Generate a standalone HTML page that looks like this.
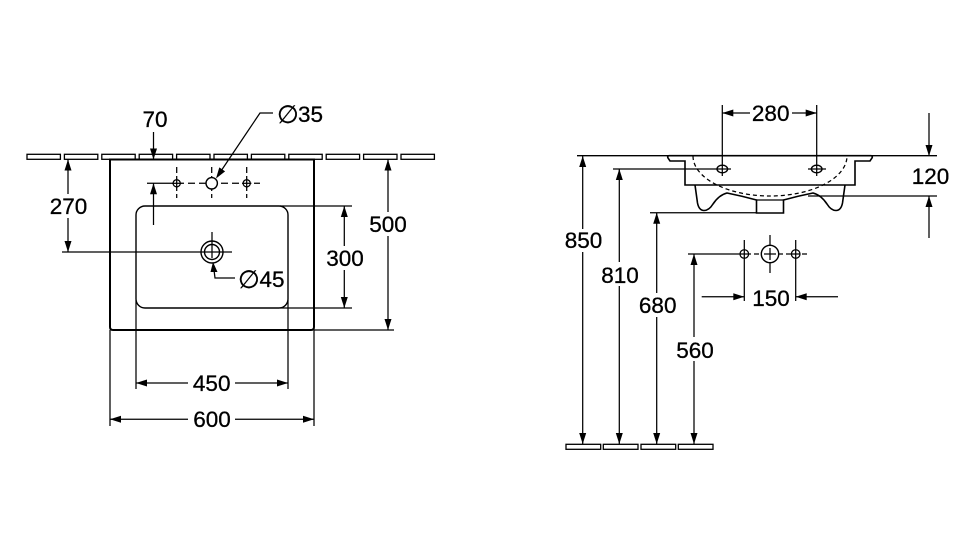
<!DOCTYPE html>
<html>
<head>
<meta charset="utf-8">
<style>
  html,body{margin:0;padding:0;background:#fff;}
  svg{display:block;}
  text{font-family:"Liberation Sans","DejaVu Sans",sans-serif;font-size:22.5px;fill:#000;stroke:#000;stroke-width:0.3px;}
</style>
</head>
<body>
<svg width="956" height="540" viewBox="0 0 956 540" xmlns="http://www.w3.org/2000/svg">
<rect width="956" height="540" fill="#fff"/>
<g fill="none" stroke="#000" stroke-width="1.25">
  <!-- ===== LEFT: wall tiles ===== -->
  <g stroke-width="1.3">
    <rect x="27" y="154.3" width="33.4" height="5"/>
    <rect x="64.4" y="154.3" width="33.4" height="5"/>
    <rect x="101.8" y="154.3" width="33.4" height="5"/>
    <rect x="139.2" y="154.3" width="33.4" height="5"/>
    <rect x="176.6" y="154.3" width="33.4" height="5"/>
    <rect x="214" y="154.3" width="33.4" height="5"/>
    <rect x="251.4" y="154.3" width="33.4" height="5"/>
    <rect x="288.8" y="154.3" width="33.4" height="5"/>
    <rect x="326.2" y="154.3" width="33.4" height="5"/>
    <rect x="363.6" y="154.3" width="33.4" height="5"/>
    <rect x="401" y="154.3" width="33.4" height="5"/>
  </g>
  <!-- basin outer -->
  <path d="M110,159.5 L314,159.5 L314,327 Q314,330 311,330 L113,330 Q110,330 110,327 Z" stroke-width="2"/>
  <!-- bowl -->
  <rect x="136" y="206" width="152" height="102" rx="9" stroke-width="1.4"/>
  <!-- extension lines -->
  <line x1="136" y1="300" x2="136" y2="389"/>
  <line x1="288" y1="300" x2="288" y2="389"/>
  <line x1="110" y1="330" x2="110" y2="426"/>
  <line x1="314" y1="330" x2="314" y2="426"/>
  <line x1="280" y1="206" x2="352" y2="206"/>
  <line x1="280" y1="308" x2="352" y2="308"/>
  <line x1="314" y1="330" x2="394" y2="330"/>
  <!-- dimension lines -->
  <line x1="136" y1="383" x2="288" y2="383"/>
  <line x1="110" y1="419.3" x2="314" y2="419.3"/>
  <line x1="344.3" y1="206" x2="344.3" y2="308"/>
  <line x1="388" y1="159.5" x2="388" y2="330"/>
  <line x1="68" y1="159.5" x2="68" y2="252"/>
  <line x1="62" y1="252" x2="232" y2="252"/>
  <line x1="153.5" y1="132" x2="153.5" y2="159.5"/>
  <line x1="153.5" y1="183.3" x2="153.5" y2="225"/>
  <!-- tap hole centerline -->
  <line x1="147" y1="183.3" x2="166" y2="183.3"/>
  <line x1="166" y1="183.3" x2="260" y2="183.3" stroke-dasharray="7,4"/>
  <line x1="176.7" y1="167" x2="176.7" y2="198" stroke-dasharray="6,3"/>
  <line x1="211.7" y1="167" x2="211.7" y2="198" stroke-dasharray="6,3"/>
  <line x1="246.7" y1="167" x2="246.7" y2="198" stroke-dasharray="6,3"/>
  <circle cx="176.7" cy="183.3" r="3.6" fill="#fff"/>
  <line x1="172" y1="183.3" x2="181.4" y2="183.3"/>
  <line x1="176.7" y1="178.6" x2="176.7" y2="188"/>
  <circle cx="246.7" cy="183.3" r="3.6" fill="#fff"/>
  <line x1="242" y1="183.3" x2="251.4" y2="183.3"/>
  <line x1="246.7" y1="178.6" x2="246.7" y2="188"/>
  <circle cx="211.7" cy="183.3" r="5.7" fill="#fff" stroke-width="1.4"/>
  <!-- Ø35 leader -->
  <polyline points="273,113 260,113 219,174"/>
  <!-- drain -->
  <line x1="212" y1="232" x2="212" y2="258"/>
  <circle cx="212" cy="252" r="11" stroke-width="1.4"/>
  <circle cx="212" cy="252" r="7.5" stroke-width="1.4"/>
  <!-- Ø45 leader -->
  <polyline points="214,270 215,278 235,278"/>

  <!-- ===== RIGHT ===== -->
  <line x1="577" y1="155.7" x2="937" y2="155.7" stroke-width="1.4"/>
  <!-- basin profile -->
  <path d="M669,155.7 L871,155.7 Q873,156 872,158 L870,161 L855,161 L855,185 L685,185 L685,161 L670,161 L668,158 Q667,156 669,155.7 Z" stroke-width="1.6" fill="#fff"/>
  <!-- legs and underside -->
  <path d="M695,185 L697.5,203 Q699,210.5 704,210.5 Q709,210.5 713,204 Q719,195 727,193 Q742,196 756.5,200 L756.5,213 L783.5,213 L783.5,200 Q798,196 813,193 Q821,195 827,204 Q831,210.5 836,210.5 Q841,210.5 842.5,203 L845,185" stroke-width="1.6"/>
  <line x1="756.5" y1="200" x2="783.5" y2="200" stroke-width="1.3"/>
  <!-- dashed bowl -->
  <path d="M693,156 A77,40 0 0 0 847,156" stroke-dasharray="4,3"/>
  <!-- tap holes -->
  <line x1="722.3" y1="105" x2="722.3" y2="176"/>
  <line x1="816.7" y1="105" x2="816.7" y2="176"/>
  <line x1="613" y1="169" x2="731" y2="169"/>
  <line x1="808" y1="169" x2="826" y2="169"/>
  <ellipse cx="722.3" cy="169" rx="5.3" ry="3.8" stroke-width="1.4"/>
  <ellipse cx="816.7" cy="169" rx="5.3" ry="3.8" stroke-width="1.4"/>
  <!-- 280 -->
  <line x1="722.3" y1="113" x2="816.7" y2="113"/>
  <!-- 120 -->
  <line x1="929" y1="113" x2="929" y2="156"/>
  <line x1="929" y1="196" x2="929" y2="238"/>
  <line x1="808" y1="196" x2="937" y2="196"/>
  <!-- 680 ext -->
  <line x1="650" y1="212.7" x2="757" y2="212.7"/>
  <!-- verticals -->
  <line x1="582.7" y1="156" x2="582.7" y2="444"/>
  <line x1="619.3" y1="169" x2="619.3" y2="444"/>
  <line x1="656.7" y1="212.7" x2="656.7" y2="444"/>
  <line x1="694" y1="254" x2="694" y2="444"/>
  <!-- floor tiles -->
  <g stroke-width="1.3">
    <rect x="566" y="444.3" width="34.7" height="5"/>
    <rect x="603.3" y="444.3" width="34.7" height="5"/>
    <rect x="641" y="444.3" width="34.7" height="5"/>
    <rect x="678.3" y="444.3" width="34.7" height="5"/>
  </g>
  <!-- 560 ext + holes -->
  <line x1="688" y1="254" x2="738" y2="254"/>
  <line x1="738" y1="254" x2="808" y2="254" stroke-dasharray="5,3"/>
  <line x1="770" y1="235" x2="770" y2="273"/>
  <line x1="744.3" y1="240" x2="744.3" y2="301"/>
  <line x1="795.7" y1="240" x2="795.7" y2="301"/>
  <circle cx="744.3" cy="254" r="4.3" fill="#fff"/>
  <line x1="740" y1="254" x2="748.6" y2="254"/>
  <line x1="744.3" y1="249.7" x2="744.3" y2="258.3"/>
  <circle cx="795.7" cy="254" r="4.3" fill="#fff"/>
  <line x1="791.4" y1="254" x2="800" y2="254"/>
  <line x1="795.7" y1="249.7" x2="795.7" y2="258.3"/>
  <circle cx="770" cy="254" r="8.7" fill="#fff" stroke-width="1.4"/>
  <line x1="764" y1="254" x2="776" y2="254"/>
  <line x1="770" y1="248" x2="770" y2="260"/>
  <!-- 150 -->
  <line x1="701.7" y1="296.7" x2="744.3" y2="296.7"/>
  <line x1="795.7" y1="296.7" x2="838" y2="296.7"/>
</g>

<!-- arrowheads -->
<g fill="#000" stroke="none">
  <!-- left drawing -->
  <polygon points="153.5,159.5 150,148.5 157,148.5"/>
  <polygon points="153.5,183.3 150,194.3 157,194.3"/>
  <polygon points="68,159.5 64.5,170.5 71.5,170.5"/>
  <polygon points="68,252 64.5,241 71.5,241"/>
  <polygon points="388,159.5 384.5,170.5 391.5,170.5"/>
  <polygon points="388,330 384.5,319 391.5,319"/>
  <polygon points="344.3,206 340.8,217 347.8,217"/>
  <polygon points="344.3,308 340.8,297 347.8,297"/>
  <polygon points="136,383 147,379.5 147,386.5"/>
  <polygon points="288,383 277,379.5 277,386.5"/>
  <polygon points="110,419.3 121,415.8 121,422.8"/>
  <polygon points="314,419.3 303,415.8 303,422.8"/>
  <polygon points="216,178.5 225.1,171.4 219.3,167.4"/>
  <polygon points="213,262 210.5,272 217.5,272"/>
  <!-- right drawing -->
  <polygon points="722.3,113 733.3,109.5 733.3,116.5"/>
  <polygon points="816.7,113 805.7,109.5 805.7,116.5"/>
  <polygon points="929,156 925.5,145 932.5,145"/>
  <polygon points="929,196 925.5,207 932.5,207"/>
  <polygon points="582.7,156 579.2,167 586.2,167"/>
  <polygon points="582.7,444 579.2,433 586.2,433"/>
  <polygon points="619.3,169 615.8,180 622.8,180"/>
  <polygon points="619.3,444 615.8,433 622.8,433"/>
  <polygon points="656.7,212.7 653.2,223.7 660.2,223.7"/>
  <polygon points="656.7,444 653.2,433 660.2,433"/>
  <polygon points="694,254 690.5,265 697.5,265"/>
  <polygon points="694,444 690.5,433 697.5,433"/>
  <polygon points="744.3,296.7 733.3,293.2 733.3,300.2"/>
  <polygon points="795.7,296.7 806.7,293.2 806.7,300.2"/>
</g>

<!-- white backgrounds for text -->
<g fill="#fff" stroke="none">
  <rect x="48" y="194" width="41" height="24"/>
  <rect x="366" y="212" width="44" height="24"/>
  <rect x="324" y="246" width="42" height="24"/>
  <rect x="188" y="372" width="47" height="22"/>
  <rect x="188" y="408" width="47" height="22"/>
  <rect x="750" y="102" width="42" height="22"/>
  <rect x="562" y="229" width="42" height="23"/>
  <rect x="598" y="262" width="43" height="24"/>
  <rect x="636" y="293" width="43" height="24"/>
  <rect x="673" y="337" width="44" height="24"/>
</g>

<!-- labels -->
<g text-anchor="middle">
  <text x="155" y="127">70</text>
  <text x="68.5" y="214">270</text>
  <text x="388" y="232">500</text>
  <text x="345" y="266">300</text>
  <text x="211.7" y="391">450</text>
  <text x="212" y="427">600</text>
  <text x="770.7" y="121">280</text>
  <text x="930.5" y="184">120</text>
  <text x="583.5" y="248">850</text>
  <text x="620" y="283">810</text>
  <text x="657.7" y="313">680</text>
  <text x="695" y="358">560</text>
  <text x="771" y="306">150</text>
</g>
<text x="277" y="123" style="font-family:'DejaVu Sans',sans-serif;font-size:25px;">∅</text>
<text x="298" y="122">35</text>
<text x="238" y="288" style="font-family:'DejaVu Sans',sans-serif;font-size:25px;">∅</text>
<text x="259.5" y="287">45</text>
</svg>
</body>
</html>
